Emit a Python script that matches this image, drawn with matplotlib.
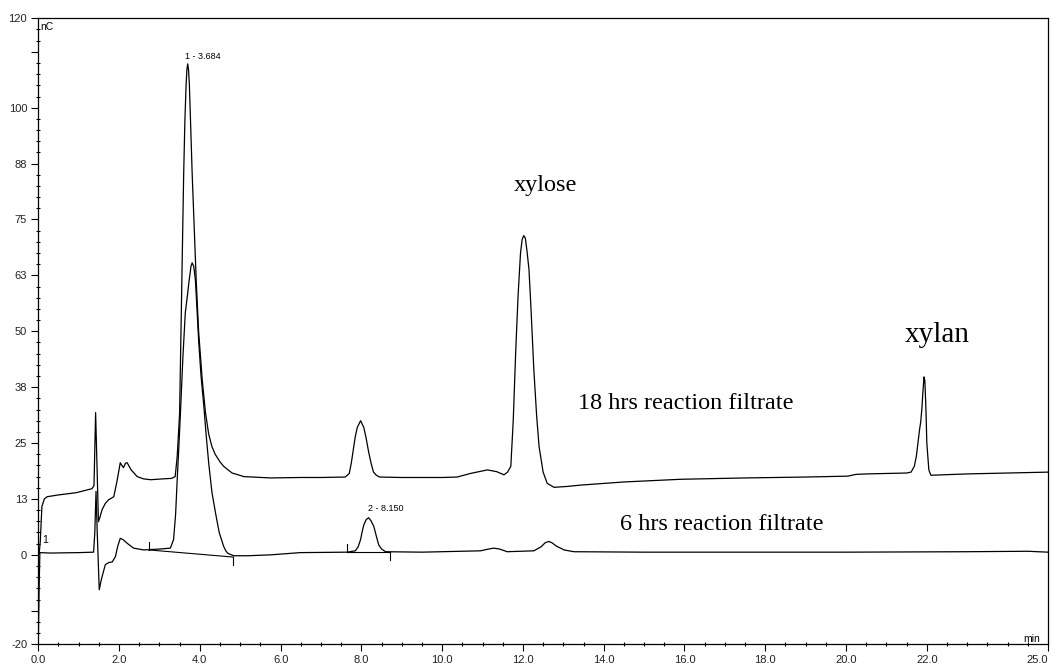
import numpy as np
import matplotlib.pyplot as plt
from matplotlib.ticker import MultipleLocator

# 18 hrs reaction filtrate (upper trace), time in min, signal in nC
t18 = [0.02, 0.05, 0.09, 0.15, 0.22, 0.50, 0.94, 1.33, 1.38, 1.42, 1.46, 1.49, 1.53, 1.58,
       1.66, 1.74, 1.87, 1.95, 2.03, 2.07, 2.11, 2.16, 2.20, 2.30, 2.45, 2.60, 2.78, 3.10,
       3.30, 3.39, 3.44, 3.50, 3.53, 3.60, 3.63, 3.66, 3.68, 3.70, 3.72, 3.74, 3.77, 3.81,
       3.91, 3.97, 4.06, 4.14, 4.22, 4.30, 4.38, 4.50, 4.59, 4.70, 4.80, 4.95, 5.09, 5.75,
       6.50, 7.00, 7.60, 7.70, 7.75, 7.80, 7.85, 7.90, 7.98, 8.06, 8.12, 8.18, 8.24, 8.30,
       8.37, 8.45, 9.00, 10.00, 10.37, 10.70, 11.12, 11.35, 11.53, 11.62, 11.70, 11.76, 11.82,
       11.88, 11.94, 11.98, 12.02, 12.06, 12.10, 12.15, 12.20, 12.27, 12.34, 12.40, 12.50,
       12.60, 12.77, 13.10, 13.43, 14.50, 15.91, 17.50, 19.00, 20.04, 20.25, 20.53, 21.00,
       21.50, 21.61, 21.69, 21.74, 21.78, 21.82, 21.85, 21.88, 21.90, 21.93, 21.95, 21.96,
       21.98, 22.00, 22.05, 22.10, 23.00, 24.00, 25.00]
v18 = [0.0, 3.0, 10.8, 12.5, 13.0, 13.4, 13.9, 14.8, 15.5, 31.8, 18.0, 7.4, 8.5, 10.1,
       11.5, 12.3, 13.0, 16.5, 20.6, 20.0, 19.5, 20.5, 20.6, 19.0, 17.5, 17.0, 16.8, 17.0,
       17.1, 17.5, 22.0, 31.7, 48.0, 85.0, 97.0, 105.0, 108.5, 109.8, 108.5, 105.5, 97.0, 85.4,
       61.5, 50.0, 39.1, 31.8, 27.0, 24.2, 22.5, 20.8, 19.8, 19.0, 18.3, 17.9, 17.5, 17.2,
       17.3, 17.3, 17.4, 18.2, 20.5, 23.5, 26.5, 28.5, 30.0, 28.5, 26.0, 23.0, 20.5, 18.5,
       17.8, 17.4, 17.3, 17.3, 17.4, 18.2, 19.0, 18.6, 17.9, 18.5, 19.8, 30.0, 45.2,
       58.0, 67.5, 70.5, 71.4, 70.8, 68.0, 63.8, 55.0, 41.4, 31.0, 24.2, 18.5,
       16.0, 15.1, 15.3, 15.6, 16.3, 16.9, 17.2, 17.4, 17.6, 18.0, 18.1, 18.2,
       18.3, 18.5, 19.8, 22.0, 25.0, 28.0, 29.8, 33.0, 36.0, 39.8, 39.0, 37.0,
       32.0, 25.0, 19.0, 17.8, 18.1, 18.3, 18.5]

# 6 hrs reaction filtrate (lower trace)
t6 = [0.00, 0.02, 0.04, 0.30, 1.00, 1.37, 1.40, 1.43, 1.46, 1.51, 1.55, 1.58, 1.66, 1.75,
      1.83, 1.91, 1.97, 2.03, 2.10, 2.20, 2.36, 2.61, 3.00, 3.27, 3.35, 3.40, 3.44, 3.48,
      3.52, 3.58, 3.64, 3.70, 3.73, 3.76, 3.78, 3.81, 3.85, 3.89, 3.93, 3.97, 4.03, 4.10,
      4.16, 4.22, 4.30, 4.39, 4.48, 4.59, 4.65, 4.70, 4.84, 5.20, 5.75, 6.49, 7.65, 7.85,
      7.92, 7.98, 8.02, 8.06, 8.12, 8.18, 8.24, 8.31, 8.37, 8.43, 8.50, 8.60, 9.50, 10.95,
      11.15, 11.28, 11.42, 11.61, 12.27, 12.45, 12.55, 12.64, 12.72, 12.82, 13.02, 13.26,
      15.00, 20.00, 23.00, 24.50, 25.00]
v6 = [-20.0, -8.0, 0.5, 0.4, 0.5, 0.6, 5.0, 14.2, 5.0, -7.8, -6.0, -4.9, -2.2, -1.7,
      -1.6, -0.4, 2.0, 3.7, 3.4, 2.6, 1.5, 1.1, 1.3, 1.5, 3.4, 9.0, 16.8, 24.0,
      31.7, 44.0, 54.1, 58.5, 61.0, 63.0, 64.5, 65.3, 64.5, 61.5, 55.0, 48.1, 40.0, 33.2,
      26.5, 20.5, 14.0, 9.3, 5.0, 1.9, 0.8, 0.3, -0.2, -0.2, 0.0, 0.5, 0.6, 0.9,
      1.8, 3.4, 5.2, 6.7, 7.9, 8.3, 7.6, 6.3, 4.2, 2.2, 1.3, 0.7, 0.6, 0.9,
      1.3, 1.5, 1.3, 0.7, 0.9, 1.8, 2.7, 3.0, 2.7, 2.0, 1.1, 0.7,
      0.6, 0.6, 0.7, 0.8, 0.6]

# integration baselines of the 6 hrs peaks (start/end time and level)
base_t0 = [2.74, 7.64]
base_v0 = [1.1, 0.6]
base_t1 = [4.83, 8.71]
base_v1 = [-0.5, 0.6]

yticks = [-20, -12.5, 0, 12.5, 25, 37.5, 50, 62.5, 75, 87.5, 100, 112.5, 120]
ylabels = ["-20", "", "0", "13", "25", "38", "50", "63", "75", "88", "100", "", "120"]
xticks = [0, 2, 4, 6, 8, 10, 12, 14, 16, 18, 20, 22, 25]
xlabels = ["0.0", "2.0", "4.0", "6.0", "8.0", "10.0", "12.0", "14.0", "16.0", "18.0",
           "20.0", "22.0", "25.0"]

fig = plt.figure(figsize=(10.54, 6.64), dpi=100)
ax = fig.add_axes([0.0363, 0.0297, 0.958, 0.9428])

ax.plot(t18, v18, color="black", lw=0.9)
ax.plot(t6, v6, color="black", lw=0.9)

for a, b, c, d in zip(base_t0, base_v0, base_t1, base_v1):
    ax.plot([a, c], [b, d], color="black", lw=0.8)
    ax.plot([a, a], [b, b + 1.8], color="black", lw=0.8)
    ax.plot([c, c], [d, d - 1.8], color="black", lw=0.8)

ax.set_xlim(0, 25)
ax.set_ylim(-20, 120)
ax.set_xticks(xticks)
ax.set_xticklabels(xlabels)
ax.set_yticks(yticks)
ax.set_yticklabels(ylabels)
ax.xaxis.set_minor_locator(MultipleLocator(0.5))
ax.yaxis.set_minor_locator(MultipleLocator(2.5))
ax.tick_params(which="major", direction="out", length=5, width=0.8, pad=3,
               labelsize=8, labelcolor="#222222")
ax.tick_params(which="minor", direction="inout", length=3, width=0.8)
for lab in ax.get_xticklabels() + ax.get_yticklabels():
    lab.set_family("Liberation Sans")
ax.get_xticklabels()[-1].set_horizontalalignment("right")
for s in ax.spines.values():
    s.set_linewidth(0.9)

sans = "Liberation Sans"
serif = "Liberation Serif"
ax.text(0.04, 118.0, "nC", fontsize=7.5, family=sans, va="center")
ax.text(24.38, -18.8, "min", fontsize=7.5, family=sans, va="center")
ax.text(0.09, 3.3, "1", fontsize=7.5, family=sans, va="center")
ax.text(3.63, 111.4, "1 - 3.684", fontsize=6.5, family=sans, va="center")
ax.text(8.16, 10.3, "2 - 8.150", fontsize=6.5, family=sans, va="center")

ax.text(12.55, 82.7, "xylose", fontsize=17.5, family=serif, ha="center", va="center")
ax.text(22.27, 49.2, "xylan", fontsize=21, family=serif, ha="center", va="center")
ax.text(13.36, 33.8, "18 hrs reaction filtrate", fontsize=17.5, family=serif, va="center")
ax.text(14.40, 6.7, "6 hrs reaction filtrate", fontsize=17.5, family=serif, va="center")

fig.savefig("out.png", dpi=100)
